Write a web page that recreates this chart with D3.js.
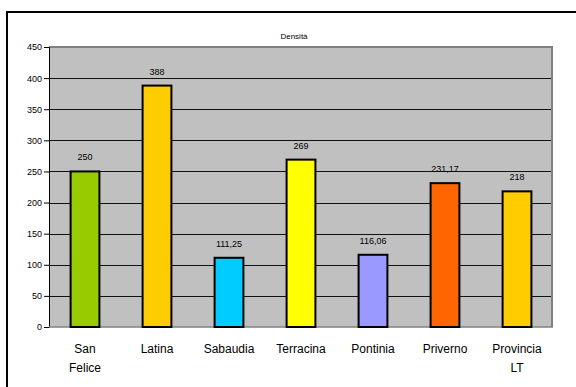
<!DOCTYPE html>
<html>
<head>
<meta charset="utf-8">
<script src="https://cdn.jsdelivr.net/npm/d3@7"></script>
<style>
  html, body { margin: 0; padding: 0; background: #fff; }
  svg { display: block; font-family: Arial, "Liberation Sans", sans-serif; }
</style>
</head>
<body>
<svg id="chart" width="576" height="387"></svg>
<script>
// Population density by municipality
const categories = [["San", "Felice"], ["Latina"], ["Sabaudia"], ["Terracina"], ["Pontinia"], ["Priverno"], ["Provincia", "LT"]];
const values = [250, 388, 111.25, 269, 116.06, 231.17, 218];
const valueLabels = ["250", "388", "111,25", "269", "116,06", "231,17", "218"];
const colors = ["#99CC00", "#FFCC00", "#00CCFF", "#FFFF00", "#9999FF", "#FF6600", "#FFCC00"];
const yTicks = [0, 50, 100, 150, 200, 250, 300, 350, 400, 450];
const title = "Densità";

const svg = d3.select("#chart");

// outer frame
svg.append("rect")
  .attr("x", 7).attr("y", 12)
  .attr("width", 590).attr("height", 400)
  .attr("fill", "#fff").attr("stroke", "#000").attr("stroke-width", 2);

const plot = { left: 49, top: 47, right: 553, bottom: 327 };

const x = d3.scaleBand()
  .domain(d3.range(categories.length))
  .range([plot.left, plot.right])
  .paddingInner(0.6).paddingOuter(0.3);

const y = d3.scaleLinear().domain([0, 450]).range([plot.bottom, plot.top]);

// plot background
svg.append("rect")
  .attr("x", plot.left).attr("y", plot.top)
  .attr("width", plot.right - plot.left).attr("height", plot.bottom - plot.top)
  .attr("fill", "#C0C0C0");

// gridlines
svg.append("g").selectAll("line")
  .data(yTicks.filter(t => t > 0 && t < 450))
  .join("line")
  .attr("x1", plot.left).attr("x2", plot.right)
  .attr("y1", d => Math.round(y(d)) + 0.5).attr("y2", d => Math.round(y(d)) + 0.5)
  .attr("stroke", "#111").attr("stroke-width", 1);

// plot border (top and right in gray)
svg.append("path")
  .attr("d", `M${plot.left},${plot.top} H${plot.right - 1} V${plot.bottom}`)
  .attr("fill", "none").attr("stroke", "#808080").attr("stroke-width", 2);

// y axis
const yAxis = d3.axisLeft(y).tickValues(yTicks).tickSize(5).tickPadding(2);
const ya = svg.append("g")
  .attr("transform", `translate(${plot.left},0)`)
  .call(yAxis);
ya.select(".domain").attr("stroke", "#000");
ya.selectAll(".tick line").attr("stroke", "#000");
ya.selectAll(".tick text").attr("font-size", 9).attr("fill", "#000")
  .attr("font-family", "Arial, 'Liberation Sans', sans-serif");

// x axis baseline
svg.append("line")
  .attr("x1", plot.left).attr("x2", plot.right)
  .attr("y1", plot.bottom).attr("y2", plot.bottom)
  .attr("stroke", "#808080").attr("stroke-width", 1.5);

// bars
svg.append("g").selectAll("rect")
  .data(values)
  .join("rect")
  .attr("x", (d, i) => x(i))
  .attr("y", d => y(d))
  .attr("width", x.bandwidth())
  .attr("height", d => y(0) - y(d))
  .attr("fill", (d, i) => colors[i])
  .attr("stroke", "#000").attr("stroke-width", 2);

// value labels
svg.append("g").selectAll("text")
  .data(values)
  .join("text")
  .attr("x", (d, i) => x(i) + x.bandwidth() / 2)
  .attr("y", d => y(d) - 11)
  .attr("text-anchor", "middle")
  .attr("font-size", 9).attr("fill", "#000")
  .text((d, i) => valueLabels[i]);

// category labels
const cat = svg.append("g").selectAll("text")
  .data(categories)
  .join("text")
  .attr("x", (d, i) => x(i) + x.bandwidth() / 2)
  .attr("y", 353)
  .attr("text-anchor", "middle")
  .attr("font-size", 12).attr("fill", "#000");
cat.selectAll("tspan")
  .data(d => d)
  .join("tspan")
  .attr("x", function () { return d3.select(this.parentNode).attr("x"); })
  .attr("dy", (d, i) => i === 0 ? 0 : 19)
  .text(d => d);

// title
svg.append("text")
  .attr("x", 294).attr("y", 39)
  .attr("text-anchor", "middle")
  .attr("font-size", 8).attr("fill", "#000")
  .text(title);
</script>
</body>
</html>
